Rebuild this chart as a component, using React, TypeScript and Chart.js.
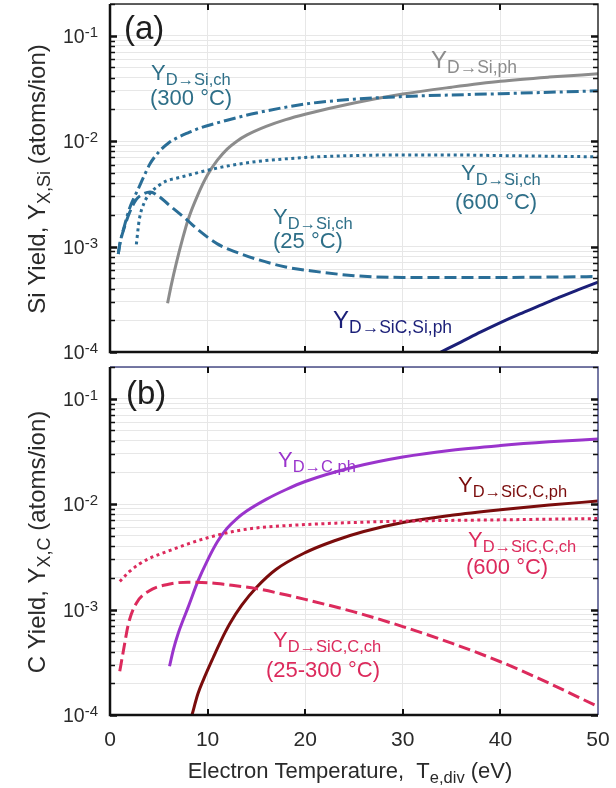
import { useEffect, useRef } from 'react';
import { Chart, registerables } from 'chart.js';

Chart.register(...registerables);

const FONT = '"Liberation Sans", Arial, Helvetica, sans-serif';

// Electron temperature axis (eV)
const teTicks = [0, 10, 20, 30, 40, 50];
const teMin = 0;
const teMax = 50;

// Yield axis (atoms/ion), logarithmic
const yMin = 1e-4;
const yMax = 0.2;
const yDecades = [1e-1, 1e-2, 1e-3, 1e-4];
const yDecadeExp = ['-1', '-2', '-3', '-4'];
const yMantissas = [1, 2, 3, 4, 5, 6, 7, 8, 9];

// ---- Panel (a): Si yields ----
// D -> Si, physical sputtering
const siPhTe = [5.9, 6.3, 6.8, 7.4, 8, 9, 10, 11, 12, 13, 14, 16, 18, 20, 25, 30, 35, 40, 45, 50];
const siPhY = [2.9e-4, 4.4e-4, 7.0e-4, 1.15e-3, 1.8e-3, 3.1e-3, 4.8e-3, 6.6e-3, 8.4e-3, 1.0e-2, 1.14e-2, 1.38e-2, 1.6e-2, 1.8e-2, 2.3e-2, 2.8e-2, 3.25e-2, 3.7e-2, 4.05e-2, 4.35e-2];
// D -> Si, chemical erosion at 300 °C
const siCh300Te = [0.85, 1, 1.5, 2, 2.5, 3, 3.5, 4.1, 5, 6, 7, 8, 9.2, 12, 15, 20, 25, 30, 40, 50];
const siCh300Y = [8.5e-4, 1.05e-3, 1.6e-3, 2.3e-3, 2.95e-3, 3.7e-3, 4.7e-3, 6.1e-3, 7.9e-3, 9.6e-3, 1.09e-2, 1.2e-2, 1.33e-2, 1.58e-2, 1.85e-2, 2.25e-2, 2.5e-2, 2.65e-2, 2.82e-2, 3.0e-2];
// D -> Si, chemical erosion at 25 °C
const siCh25Te = [0.85, 1, 1.5, 2, 2.7, 3.4, 4.1, 5, 6, 7, 8, 9, 11, 13, 15, 18, 20.5, 25, 30, 40, 50];
const siCh25Y = [8.5e-4, 1.05e-3, 1.55e-3, 2.1e-3, 2.8e-3, 3.15e-3, 3.3e-3, 3.0e-3, 2.5e-3, 2.1e-3, 1.75e-3, 1.45e-3, 1.06e-3, 8.8e-4, 7.6e-4, 6.4e-4, 5.9e-4, 5.3e-4, 5.1e-4, 5.1e-4, 5.2e-4];
// D -> Si, chemical erosion at 600 °C
const siCh600Te = [2.7, 3.0, 3.5, 4.1, 5, 5.8, 7, 8, 10, 12, 15, 20, 25, 30, 35, 40, 45, 50];
const siCh600Y = [1.05e-3, 1.8e-3, 2.6e-3, 3.2e-3, 3.8e-3, 4.2e-3, 4.5e-3, 4.75e-3, 5.3e-3, 5.8e-3, 6.4e-3, 7.0e-3, 7.3e-3, 7.4e-3, 7.4e-3, 7.3e-3, 7.2e-3, 7.1e-3];
// D -> SiC, Si component, physical sputtering
const sicSiPhTe = [33.9, 36, 38, 40, 42, 44, 46, 48, 50];
const sicSiPhY = [1.0e-4, 1.25e-4, 1.55e-4, 1.9e-4, 2.3e-4, 2.75e-4, 3.3e-4, 3.9e-4, 4.6e-4];

// ---- Panel (b): C yields ----
// D -> C, physical sputtering
const cPhTe = [6.1, 6.5, 7, 7.5, 8, 9, 10, 11, 12, 13, 14, 16, 18, 20, 25, 30, 35, 40, 45, 50];
const cPhY = [2.9e-4, 4.2e-4, 6.0e-4, 8.0e-4, 1.05e-3, 1.85e-3, 2.95e-3, 4.4e-3, 5.9e-3, 7.3e-3, 8.6e-3, 1.11e-2, 1.37e-2, 1.64e-2, 2.25e-2, 2.8e-2, 3.25e-2, 3.6e-2, 3.9e-2, 4.15e-2];
// D -> SiC, C component, physical sputtering
const sicCPhTe = [8.4, 9, 9.6, 10.6, 11.4, 12.3, 13.5, 15, 17, 20, 23, 26, 30, 35, 40, 45, 50];
const sicCPhY = [1.0e-4, 1.58e-4, 2.19e-4, 3.55e-4, 5.13e-4, 7.4e-4, 1.1e-3, 1.62e-3, 2.4e-3, 3.47e-3, 4.5e-3, 5.5e-3, 6.7e-3, 7.85e-3, 8.85e-3, 9.8e-3, 1.07e-2];
// D -> SiC, C component, chemical erosion at 600 °C
const sicCCh600Te = [1, 2, 3, 4, 6, 8, 10, 12.6, 15, 20, 25, 30, 40, 50];
const sicCCh600Y = [1.85e-3, 2.3e-3, 2.7e-3, 3.05e-3, 3.6e-3, 4.2e-3, 4.8e-3, 5.5e-3, 5.95e-3, 6.4e-3, 6.7e-3, 6.9e-3, 7.1e-3, 7.3e-3];
// D -> SiC, C component, chemical erosion at 25-300 °C
const sicCCh25Te = [1, 1.4, 1.9, 2.7, 4, 6, 8, 10, 12, 15, 18, 20, 25, 30, 35, 40, 45, 50];
const sicCCh25Y = [2.6e-4, 4.2e-4, 7.4e-4, 1.15e-3, 1.5e-3, 1.74e-3, 1.82e-3, 1.8e-3, 1.72e-3, 1.58e-3, 1.38e-3, 1.25e-3, 9.5e-4, 6.9e-4, 4.8e-4, 3.2e-4, 2.0e-4, 1.2e-4];

// Colours
const TEAL = '#2a6e97';
const TEAL_TEXT = '#2e6f88';
const GRAY = '#8c8c8c';
const NAVY = '#1b1f78';
const PURPLE = '#9a34cc';
const DARKRED = '#7a0c0c';
const CRIMSON = '#dc2a5c';
const GRID = '#e7e7e7';
const AXIS_TEXT = '#2a2a2a';

const DASH = [12, 5];
const DASHDOT = [12, 4, 3, 4];
const DOT = [3, 3.5];
const SOLID: number[] = [];

type Seg = { t: string; size: number; dy?: number };
type Series = { te: number[]; y: number[]; color: string; dash: number[] };
type Note = { x: number; y: number; color: string; segs: Seg[] };

type PanelSpec = {
  offset: number; // vertical position of the canvas on the page
  height: number;
  padTop: number;
  xAxisHeight: number;
  frameColor: string;
  series: Series[];
  notes: Note[];
  yTitle: Seg[];
  yTitleCenter: number; // page y
  showXLabels: boolean;
};

const M = 22; // main label size
const S = 16.5; // subscript size
const SUB = 5; // subscript drop

const panelA: PanelSpec = {
  offset: 0,
  height: 360,
  padTop: 4,
  xAxisHeight: 8,
  frameColor: '#2b2b2b',
  series: [
    { te: siCh300Te, y: siCh300Y, color: TEAL, dash: DASHDOT },
    { te: siCh600Te, y: siCh600Y, color: TEAL, dash: DOT },
    { te: siCh25Te, y: siCh25Y, color: TEAL, dash: DASH },
    { te: siPhTe, y: siPhY, color: GRAY, dash: SOLID },
    { te: sicSiPhTe, y: sicSiPhY, color: NAVY, dash: SOLID },
  ],
  notes: [
    { x: 124, y: 39, color: '#1e1e1e', segs: [{ t: '(a)', size: 33 }] },
    { x: 151, y: 80, color: TEAL_TEXT, segs: [{ t: 'Y', size: M }, { t: 'D→Si,ch', size: S, dy: SUB }] },
    { x: 150, y: 105, color: TEAL_TEXT, segs: [{ t: '(300 °C)', size: M }] },
    { x: 431, y: 68, color: GRAY, segs: [{ t: 'Y', size: M + 2 }, { t: 'D→Si,ph', size: S + 1, dy: SUB }] },
    { x: 461, y: 180, color: TEAL_TEXT, segs: [{ t: 'Y', size: M }, { t: 'D→Si,ch', size: S, dy: SUB }] },
    { x: 455, y: 209, color: TEAL_TEXT, segs: [{ t: '(600 °C)', size: M }] },
    { x: 273, y: 224, color: TEAL_TEXT, segs: [{ t: 'Y', size: M }, { t: 'D→Si,ch', size: S, dy: SUB }] },
    { x: 273, y: 248, color: TEAL_TEXT, segs: [{ t: '(25 °C)', size: M }] },
    { x: 333, y: 328, color: NAVY, segs: [{ t: 'Y', size: M + 2 }, { t: 'D→SiC,Si,ph', size: S + 1, dy: SUB }] },
  ],
  yTitle: [
    { t: 'Si Yield, Y', size: 24 },
    { t: 'X,Si', size: 18, dy: 5 },
    { t: ' (atoms/ion)', size: 24 },
  ],
  yTitleCenter: 179,
  showXLabels: false,
};

const panelB: PanelSpec = {
  offset: 360,
  height: 428,
  padTop: 7,
  xAxisHeight: 73,
  frameColor: '#4a4e86',
  series: [
    { te: sicCCh600Te, y: sicCCh600Y, color: CRIMSON, dash: DOT },
    { te: sicCCh25Te, y: sicCCh25Y, color: CRIMSON, dash: DASH },
    { te: cPhTe, y: cPhY, color: PURPLE, dash: SOLID },
    { te: sicCPhTe, y: sicCPhY, color: DARKRED, dash: SOLID },
  ],
  notes: [
    { x: 126, y: 404, color: '#1e1e1e', segs: [{ t: '(b)', size: 33 }] },
    { x: 278, y: 467, color: PURPLE, segs: [{ t: 'Y', size: M }, { t: 'D→C,ph', size: S, dy: SUB }] },
    { x: 458, y: 492, color: DARKRED, segs: [{ t: 'Y', size: M }, { t: 'D→SiC,C,ph', size: S, dy: SUB }] },
    { x: 468, y: 547, color: CRIMSON, segs: [{ t: 'Y', size: M }, { t: 'D→SiC,C,ch', size: S, dy: SUB }] },
    { x: 466, y: 574, color: CRIMSON, segs: [{ t: '(600 °C)', size: M }] },
    { x: 273, y: 647, color: CRIMSON, segs: [{ t: 'Y', size: M }, { t: 'D→SiC,C,ch', size: S, dy: SUB }] },
    { x: 266, y: 677, color: CRIMSON, segs: [{ t: '(25-300 °C)', size: M }] },
  ],
  yTitle: [
    { t: 'C Yield, Y', size: 24 },
    { t: 'X,C', size: 18, dy: 5 },
    { t: ' (atoms/ion)', size: 24 },
  ],
  yTitleCenter: 542,
  showXLabels: true,
};

const xTitle: Seg[] = [
  { t: 'Electron Temperature,  T', size: 22 },
  { t: 'e,div', size: 16.5, dy: 5 },
  { t: ' (eV)', size: 22 },
];

function segWidths(ctx: CanvasRenderingContext2D, segs: Seg[]) {
  return segs.map((s) => {
    ctx.font = `${s.size}px ${FONT}`;
    return ctx.measureText(s.t).width;
  });
}

// Draws a run of text pieces (main text, sub- and superscripts) from a left x and baseline y
function drawSegs(ctx: CanvasRenderingContext2D, segs: Seg[], x: number, y: number, color: string, center = false) {
  const w = segWidths(ctx, segs);
  const total = w.reduce((a, b) => a + b, 0);
  let cx = center ? x - total / 2 : x;
  ctx.save();
  ctx.fillStyle = color;
  ctx.textAlign = 'left';
  ctx.textBaseline = 'alphabetic';
  segs.forEach((s, i) => {
    ctx.font = `${s.size}px ${FONT}`;
    ctx.fillText(s.t, cx, y + (s.dy || 0));
    cx += w[i];
  });
  ctx.restore();
}

function allYTicks(): number[] {
  const out: number[] = [];
  for (const d of [1e-4, 1e-3, 1e-2, 1e-1]) {
    for (const m of yMantissas) {
      const v = m * d;
      if (v >= yMin * 0.999 && v <= yMax * 1.001) out.push(v);
    }
  }
  return out;
}

function decorations(spec: PanelSpec) {
  return {
    id: 'panelDecor',
    afterDraw(chart: any) {
      const ctx: CanvasRenderingContext2D = chart.ctx;
      const { left, right, top, bottom } = chart.chartArea;
      const xs = chart.scales.x;
      const ys = chart.scales.y;
      const off = spec.offset;

      ctx.save();
      // top and right frame lines
      ctx.strokeStyle = spec.frameColor;
      ctx.lineWidth = 1.5;
      ctx.beginPath();
      ctx.moveTo(left, top);
      ctx.lineTo(right, top);
      ctx.lineTo(right, bottom);
      ctx.stroke();

      // x major ticks, pointing inward on top and bottom edges
      ctx.strokeStyle = '#111';
      ctx.lineWidth = 2;
      for (const t of teTicks) {
        if (t === teMin || t === teMax) continue;
        const px = Math.round(xs.getPixelForValue(t));
        ctx.beginPath();
        ctx.moveTo(px, top);
        ctx.lineTo(px, top + 6);
        ctx.moveTo(px, bottom);
        ctx.lineTo(px, bottom - 6);
        ctx.stroke();
      }

      // y ticks on left and right edges
      for (const v of allYTicks()) {
        const py = Math.round(ys.getPixelForValue(v)) + 0.5;
        const major = yDecades.some((d) => Math.abs(d - v) / d < 1e-6);
        const len = major ? 7 : 5;
        ctx.lineWidth = major ? 2.5 : 1.6;
        ctx.strokeStyle = '#111';
        ctx.beginPath();
        ctx.moveTo(left, py);
        ctx.lineTo(left + len, py);
        ctx.moveTo(right, py);
        ctx.lineTo(right - len, py);
        ctx.stroke();
      }

      // left and bottom axis lines
      ctx.strokeStyle = '#111';
      ctx.lineWidth = 2.5;
      ctx.beginPath();
      ctx.moveTo(left, top);
      ctx.lineTo(left, bottom);
      ctx.lineTo(right, bottom);
      ctx.stroke();
      ctx.restore();

      // decade labels 10^n
      yDecades.forEach((d, i) => {
        const py = ys.getPixelForValue(d);
        drawSegs(ctx, [{ t: '10', size: 19.5 }, { t: yDecadeExp[i], size: 15, dy: -6 }], 63, py + 7, AXIS_TEXT);
      });

      // x tick labels
      if (spec.showXLabels) {
        ctx.save();
        ctx.fillStyle = AXIS_TEXT;
        ctx.font = `21px ${FONT}`;
        ctx.textAlign = 'center';
        ctx.textBaseline = 'alphabetic';
        for (const t of teTicks) {
          ctx.fillText(String(t), xs.getPixelForValue(t), 746 - off);
        }
        ctx.restore();
        drawSegs(ctx, xTitle, 350, 778 - off, AXIS_TEXT, true);
      }

      // rotated y-axis title
      ctx.save();
      ctx.translate(45, spec.yTitleCenter - off);
      ctx.rotate(-Math.PI / 2);
      drawSegs(ctx, spec.yTitle, 0, 0, AXIS_TEXT, true);
      ctx.restore();

      // curve annotations
      for (const n of spec.notes) {
        drawSegs(ctx, n.segs, n.x, n.y - off, n.color);
      }
    },
  };
}

function Panel({ spec }: { spec: PanelSpec }) {
  const ref = useRef<HTMLCanvasElement>(null);

  useEffect(() => {
    const canvas = ref.current;
    if (!canvas) return;
    const yTicks = allYTicks();
    const chart = new Chart(canvas, {
      type: 'line',
      data: {
        datasets: spec.series.map((s) => ({
          data: s.te.map((t, i) => ({ x: t, y: s.y[i] })),
          borderColor: s.color,
          borderWidth: 3,
          borderDash: s.dash,
          borderCapStyle: 'butt' as const,
          borderJoinStyle: 'round' as const,
          pointRadius: 0,
          fill: false,
          cubicInterpolationMode: 'monotone' as const,
          clip: 0,
        })),
      },
      options: {
        animation: false,
        responsive: false,
        maintainAspectRatio: false,
        devicePixelRatio: 1,
        events: [],
        layout: { padding: { top: spec.padTop, right: 18, left: 0, bottom: 0 } },
        plugins: { legend: { display: false }, tooltip: { enabled: false } },
        scales: {
          x: {
            type: 'linear',
            min: teMin,
            max: teMax,
            border: { display: false },
            grid: {
              drawTicks: false,
              lineWidth: 1,
              color: (c: any) => (c.tick && (c.tick.value === teMin || c.tick.value === teMax) ? 'rgba(0,0,0,0)' : GRID),
            },
            ticks: { display: false, stepSize: 10 },
            afterFit: (s: any) => {
              s.height = spec.xAxisHeight;
            },
          },
          y: {
            type: 'logarithmic',
            min: yMin,
            max: yMax,
            border: { display: false },
            grid: { drawTicks: false, lineWidth: 1, color: GRID },
            ticks: { display: false },
            afterBuildTicks: (s: any) => {
              s.ticks = yTicks.map((v) => ({ value: v }));
            },
            afterFit: (s: any) => {
              s.width = 110;
            },
          },
        },
      } as any,
      plugins: [decorations(spec)],
    });
    return () => chart.destroy();
  }, [spec]);

  return (
    <canvas
      ref={ref}
      width={616}
      height={spec.height}
      style={{ position: 'absolute', left: 0, top: spec.offset, width: 616, height: spec.height, display: 'block' }}
    />
  );
}

export default function App() {
  return (
    <div style={{ position: 'absolute', left: 0, top: 0, width: 616, height: 788, background: '#ffffff', overflow: 'hidden' }}>
      <Panel spec={panelA} />
      <Panel spec={panelB} />
    </div>
  );
}
